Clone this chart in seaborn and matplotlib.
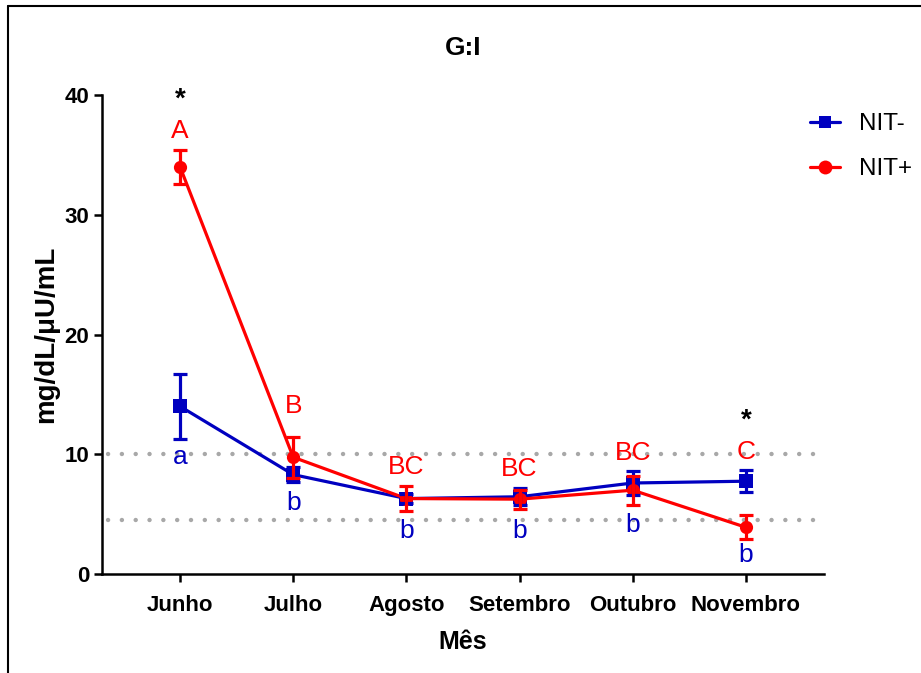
import matplotlib
matplotlib.use("Agg")
import matplotlib.pyplot as plt
import seaborn as sns
import pandas as pd
import numpy as np
from matplotlib.lines import Line2D

months = ["Junho", "Julho", "Agosto", "Setembro", "Outubro", "Novembro"]
nit_neg = [14.0, 8.3, 6.3, 6.45, 7.6, 7.75]
nit_neg_err = [2.7, 0.6, 0.4, 0.7, 1.0, 0.9]
nit_pos = [34.0, 9.75, 6.3, 6.25, 7.0, 3.9]
nit_pos_err = [1.45, 1.7, 1.05, 0.8, 1.2, 1.0]
upper_labels = ["A", "B", "BC", "BC", "BC", "C"]
upper_label_y = [37.0, 14.0, 8.9, 8.8, 10.1, 10.2]
lower_labels = ["a", "b", "b", "b", "b", "b"]
lower_label_y = [9.8, 5.9, 3.6, 3.6, 4.1, 1.6]
star_x = [0, 5]
star_y = [39.6, 12.8]
ref_lines = [10.0, 4.5]

sns.set_theme(style="white")
plt.rcParams['font.family'] = ['Liberation Sans', 'DejaVu Sans']
for k in ["text.color", "axes.labelcolor", "xtick.color", "ytick.color", "axes.edgecolor"]:
    plt.rcParams[k] = "black"

BLUE = "#0000C0"
RED = "#FF0000"

x = np.arange(len(months))
df = pd.DataFrame({
    "x": np.concatenate([x, x]),
    "y": nit_neg + nit_pos,
    "grp": ["NIT-"] * len(x) + ["NIT+"] * len(x),
})

fig = plt.figure(figsize=(9.21, 6.73), dpi=100)
ax = fig.add_axes([0.1107, 0.1471, 0.784, 0.7117])

for yv in ref_lines:
    ax.axhline(yv, color="#A8A8A8", lw=3.2, linestyle=(1.75, (0.01, 3.1)),
               dash_capstyle="round", zorder=1)

sns.lineplot(data=df, x="x", y="y", hue="grp", style="grp",
             palette={"NIT-": BLUE, "NIT+": RED},
             markers={"NIT-": "s", "NIT+": "o"}, dashes=False,
             markersize=9.5, linewidth=2.3, markeredgewidth=0,
             ax=ax, legend=False, zorder=3)

ax.errorbar(x, nit_neg, yerr=nit_neg_err, fmt="none", ecolor=BLUE,
            elinewidth=2.3, capsize=4.8, capthick=2.3, zorder=3)
ax.errorbar(x, nit_pos, yerr=nit_pos_err, fmt="none", ecolor=RED,
            elinewidth=2.3, capsize=4.8, capthick=2.3, zorder=4)

for xi, lab, yv in zip(x, upper_labels, upper_label_y):
    ax.text(xi, yv, lab, color=RED, fontsize=19, ha="center", va="center")
for xi, lab, yv in zip(x, lower_labels, lower_label_y):
    ax.text(xi, yv, lab, color=BLUE, fontsize=19, ha="center", va="center")
for xi, yv in zip(star_x, star_y):
    ax.text(xi, yv, "*", color="black", fontsize=20, fontweight="bold",
            ha="center", va="center")

ax.set_xlim(-0.69, 5.69)
ax.set_ylim(0, 40)
ax.set_xticks(x)
ax.set_xticklabels(months)
ax.set_yticks([0, 10, 20, 30, 40])
for lbl in ax.get_xticklabels() + ax.get_yticklabels():
    lbl.set_fontweight("bold")
    lbl.set_fontsize(16)
ax.tick_params(axis="both", direction="out", length=6, width=1.8,
               color="black", pad=3, bottom=True, left=True)
ax.tick_params(axis="x", pad=9)
for s in ["top", "right"]:
    ax.spines[s].set_visible(False)
for s in ["left", "bottom"]:
    ax.spines[s].set_linewidth(1.8)
    ax.spines[s].set_color("black")

ax.set_xlabel("Mês", fontsize=18, fontweight="bold", labelpad=10)
ax.set_ylabel("mg/dL/μU/mL", fontsize=20, fontweight="bold", labelpad=4)
fig.text(0.5027, 1 - 48/673, "G:I", fontsize=19, fontweight="bold",
         ha="center", va="center")

handles = [
    Line2D([], [], color=BLUE, marker="s", markersize=9, lw=2.3, markeredgewidth=0),
    Line2D([], [], color=RED, marker="o", markersize=10, lw=2.3, markeredgewidth=0),
]
fig.legend(handles, ["NIT-", "NIT+"], loc="upper left",
           bbox_to_anchor=(810/921, 1 - 113/673), frameon=False, fontsize=17.5,
           handlelength=1.22, handletextpad=0.8, labelspacing=0.95,
           borderpad=0, borderaxespad=0)

# figure frame (top and left edges)
fig.add_artist(Line2D([8/921, 1.0], [1 - 6/673, 1 - 6/673], transform=fig.transFigure,
                      color="black", lw=1.5))
fig.add_artist(Line2D([8/921, 8/921], [0.0, 1 - 6/673], transform=fig.transFigure,
                      color="black", lw=1.5))

fig.savefig("out.png", dpi=100)
